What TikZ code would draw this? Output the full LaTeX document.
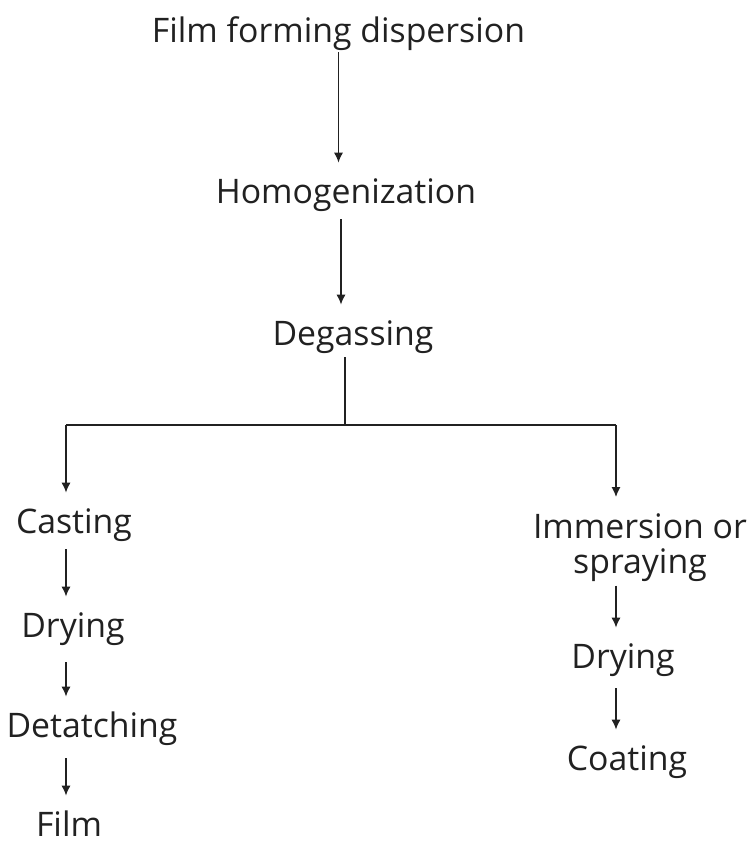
\documentclass[tikz,border=0pt]{standalone}
\usepackage{fontspec}
\setmainfont{Open Sans}
\usetikzlibrary{arrows.meta}
\usetikzlibrary{positioning}
\tikzset{step text/.style = {font=\fontsize{16.9}{17.5}\selectfont, text=ink,
                             inner sep = 0, text height = 12pt, text depth = 3.5pt}}
\tikzset{flow/.style = {-{Latex[length=5pt, width=4.6pt]}, draw=ink, line width = 0.75pt, shorten > = 8pt}}
\tikzset{link/.style = {draw=ink, line width = 0.75pt}}
\definecolor{ink}{rgb}{0.13, 0.13, 0.13}

\begin{document}
\begin{tikzpicture}[x=0.5pt, y=-0.5pt]
    \useasboundingbox (0, 0) rectangle (749, 842);

    % main line
    \node [step text, anchor=base] (ffd) at (338.5, 42) {Film forming dispersion};
    \node [step text, anchor=base] (hom) at (346, 203) {Homogenization};
    \node [step text, anchor=base] (deg) at (353, 345) {Degassing};

    % left branch
    \node [step text, anchor=base] (cast) at (74, 533) {Casting};
    \node [step text, anchor=base] (dryl) at (73, 637) {Drying};
    \node [step text, anchor=base] (det) at (92, 737) {Detatching};
    \node [step text, anchor=base] (film) at (69, 836) {Film};

    % right branch
    \node [step text, anchor=north, text height=, text depth=, align=center] (imm) at (640, 513) {Immersion or\\spraying};
    \node [step text, anchor=base] (dryr) at (623, 668) {Drying};
    \node [step text, anchor=base] (coat) at (627, 770) {Coating};

    \coordinate (axis) at (341, 0);
    \coordinate (split) at (345, 425);
    \coordinate (lcol) at (66, 0);
    \coordinate (rcol) at (616, 0);

    \draw [flow, shorten < = 1.5pt] (ffd.south) -- (hom.north -| ffd.south);
    \draw [flow, shorten < = 4.5pt] (hom.south -| axis) -- (deg.north -| axis);

    \draw [link] (deg.south -| split) ++(0, 5) -- (split);
    \draw [link] (lcol |- split) -- (rcol |- split);
    \draw [flow] (lcol |- split) -- (cast.north -| lcol);
    \draw [flow] (rcol |- split) -- (imm.north -| rcol);

    \draw [flow, shorten < = 4.5pt] (cast.south -| lcol) -- (dryl.north -| lcol);
    \draw [flow, shorten < = 9pt] (dryl.south -| lcol) -- (det.north -| lcol);
    \draw [flow, shorten < = 7pt] (det.south -| lcol) -- (film.north -| lcol);

    \draw [flow, shorten < = 2pt] (imm.south -| rcol) -- (dryr.north -| rcol);
    \draw [flow, shorten < = 6.5pt] (dryr.south -| rcol) -- (coat.north -| rcol);
\end{tikzpicture}
\end{document}
